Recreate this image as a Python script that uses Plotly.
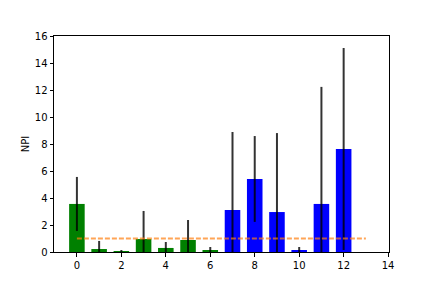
import plotly.graph_objects as go

x_green = [0, 1, 2, 3, 4, 5, 6]
y_green = [3.56, 0.22, 0.07, 0.96, 0.30, 0.89, 0.15]
err_green = [2.0, 0.6, 0.08, 2.08, 0.44, 1.48, 0.22]

x_blue = [7, 8, 9, 10, 11, 12]
y_blue = [3.11, 5.41, 2.96, 0.15, 3.56, 7.63]
err_blue = [5.78, 3.18, 5.85, 0.22, 8.67, 7.48]

ref_x = [0, 13]
ref_y = [1.0, 1.0]

fig = go.Figure()
fig.add_trace(go.Bar(x=x_green, y=y_green, width=0.7, marker=dict(color="#008000", line=dict(width=0)),
                     error_y=dict(type="data", array=err_green, color="rgba(0,0,0,0.8)", thickness=2, width=0)))
fig.add_trace(go.Bar(x=x_blue, y=y_blue, width=0.7, marker=dict(color="#0000ff", line=dict(width=0)),
                     error_y=dict(type="data", array=err_blue, color="rgba(0,0,0,0.8)", thickness=2, width=0)))
fig.add_trace(go.Scatter(x=ref_x, y=ref_y, mode="lines",
                         line=dict(color="rgba(255,127,14,0.7)", width=2, dash="5px,2px")))

axis_common = dict(showline=True, linecolor="black", linewidth=1, mirror=True, ticks="outside",
                   ticklen=3.5, tickcolor="black", showgrid=False, zeroline=False,
                   tickfont=dict(family="DejaVu Sans", size=10, color="black"))
fig.update_layout(
    width=432, height=288, showlegend=False, barmode="overlay",
    margin=dict(l=54, r=43, t=36, b=36),
    plot_bgcolor="white", paper_bgcolor="white",
    xaxis=dict(range=[-1.03, 14.04], tickmode="array", tickvals=[0, 2, 4, 6, 8, 10, 12, 14], **axis_common),
    yaxis=dict(range=[0, 16], tickmode="array", tickvals=[0, 2, 4, 6, 8, 10, 12, 14, 16],
               title=dict(text="NPI", font=dict(family="DejaVu Sans", size=10, color="black"), standoff=3),
               **axis_common),
)
fig.write_html("out.html")
